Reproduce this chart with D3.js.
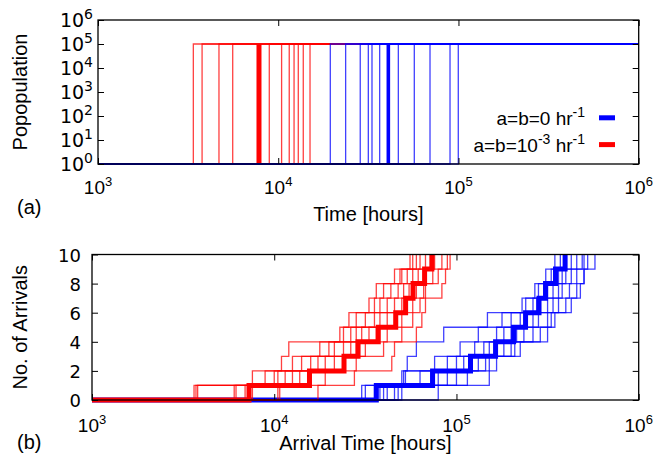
<!DOCTYPE html>
<html><head><meta charset="utf-8">
<script src="https://cdn.jsdelivr.net/npm/d3@7"></script>
<style>
body{margin:0;background:#fff}
svg{display:block}
text{font-family:"Liberation Sans",Arial,Helvetica,sans-serif;fill:#000}
text.ytick{font-family:"DejaVu Sans","Liberation Sans",Arial,sans-serif}
</style>
</head><body>
<svg id="chart" width="653" height="463"></svg>
<script>
// ---------- data ----------
const popTicks = [1, 10, 100, 1e3, 1e4, 1e5, 1e6];
const popTickExp = ["0", "1", "2", "3", "4", "5", "6"];
const timeTicks = [1e3, 1e4, 1e5, 1e6];
const timeTickExp = ["3", "4", "5", "6"];
const arrivalTicks = [0, 2, 4, 6, 8, 10];
const arrivalTickLabels = ["0", "2", "4", "6", "8", "10"];

const popStart = 1;
const popFinal = 1e5;

// (a) establishment times (hours)
const redEstablish = [3380, 3780, 4690, 5590, 8920, 10440, 11510, 12240, 12920, 13770, 15010];
const redEstablishMean = 7820;
const blueEstablish = [19450, 23660, 28510, 31610, 33130, 36550, 46380, 56880, 69520, 89770, 99770];
const blueEstablishMean = 40820;

// (b) arrival times (hours) for arrivals 1..10
const redArrivalRuns = [
  [3630, 7590, 10960, 12020, 22910, 25700, 33110, 36310, 45710, 55600],
  [3720, 8910, 12590, 17780, 23990, 28180, 35480, 39810, 48980, 57540],
  [3800, 10000, 14130, 19950, 26300, 31620, 38020, 43650, 50120, 60260],
  [6030, 10470, 15850, 21380, 28180, 35480, 41690, 47860, 53700, 63100],
  [6170, 11480, 17380, 23990, 30200, 38020, 45710, 51290, 57540, 67610],
  [6920, 12590, 19050, 26300, 33110, 41690, 50120, 54950, 61660, 72440],
  [7590, 13800, 21380, 28180, 36310, 45710, 53700, 60260, 67610, 75860],
  [10470, 15850, 23990, 31620, 41690, 50120, 57540, 66070, 74130, 83180],
  [10720, 19050, 28180, 39810, 50120, 57540, 63100, 67610, 79430, 89130],
  [17380, 27540, 44160, 45710, 60260, 64570, 67610, 83180, 87100, 92260]
];
const redArrivalMean = [7270, 15610, 24150, 28840, 37230, 46430, 52600, 57770, 66850, 73280];

const blueArrivalRuns = [
  [31620, 50120, 53700, 60260, 85110, 147900, 229100, 269200, 309000, 346700],
  [30200, 51290, 75860, 104700, 131800, 177800, 239900, 281800, 331100, 371500],
  [35480, 52480, 89130, 125900, 166000, 199500, 263000, 302000, 346700, 389000],
  [38020, 63100, 100000, 141300, 182000, 223900, 275400, 316200, 363100, 398100],
  [39810, 72440, 109600, 151400, 199500, 239900, 288400, 338800, 380200, 426600],
  [41690, 79430, 120200, 166000, 213800, 263000, 316200, 363100, 398100, 457100],
  [45710, 89130, 131800, 182000, 234400, 281800, 338800, 380200, 426600, 489800],
  [47860, 100000, 144500, 199500, 263000, 316200, 363100, 416900, 457100, 501200],
  [50120, 114800, 151400, 208900, 288400, 331100, 398100, 457100, 501200, 524800],
  [79430, 151400, 166000, 223900, 316200, 346700, 426600, 478600, 501200, 575400]
];
const blueArrivalMean = [36330, 73950, 119400, 163900, 205800, 239400, 283800, 308200, 349600, 394600];

const legendBlue = [["a=b=0 hr", 0], ["-1", 1]];
const legendRed = [["a=b=10", 0], ["-3", 1], [" hr", 0], ["-1", 1]];

// ---------- layout ----------
const RED = "#ff0000", BLUE = "#0000ff";
const svg = d3.select("#chart");
const TICK_FONT = 19, SUP_FONT = 14, SUP_DY = 8, TITLE_FONT = 20, LEG_FONT = 19;

const A = {x0: 98, x1: 638.7, y0: 20, y1: 164};
const B = {x0: 92, x1: 638.7, y0: 254.5, y1: 400};

const xA = d3.scaleLog().domain([1e3, 1e6]).range([A.x0, A.x1]);
const yA = d3.scaleLog().domain([1, 1e6]).range([A.y1, A.y0]);
const xB = d3.scaleLog().domain([1e3, 1e6]).range([B.x0, B.x1]);
const yB = d3.scaleLinear().domain([0, 10]).range([B.y1, B.y0]);

function supText(sel, segs, supSize) {
  let up = false;
  segs.forEach(([s, sup]) => {
    const t = sel.append("tspan").text(s);
    if (sup && !up) { t.attr("dy", -SUP_DY).attr("font-size", supSize); up = true; }
    else if (sup) { t.attr("font-size", supSize); }
    else if (up) { t.attr("dy", SUP_DY); up = false; }
  });
}

function axes(g, x, y, P, yLog, xLabelDy, yLabelGap, yFont) {
  const inner = 6;
  const gb = g.append("g").attr("transform", `translate(0,${P.y1})`)
    .call(d3.axisBottom(x).tickValues(timeTicks).tickSizeInner(-inner).tickSizeOuter(0).tickFormat(""));
  const gt = g.append("g").attr("transform", `translate(0,${P.y0})`)
    .call(d3.axisTop(x).tickValues(timeTicks).tickSizeInner(-inner).tickSizeOuter(0).tickFormat(""));
  const yt = yLog ? popTicks : arrivalTicks;
  const gl = g.append("g").attr("transform", `translate(${P.x0},0)`)
    .call(d3.axisLeft(y).tickValues(yt).tickSizeInner(-inner).tickSizeOuter(0).tickFormat(""));
  const gr = g.append("g").attr("transform", `translate(${P.x1},0)`)
    .call(d3.axisRight(y).tickValues(yt).tickSizeInner(-inner).tickSizeOuter(0).tickFormat(""));
  [gb, gt, gl, gr].forEach(a => {
    a.select(".domain").remove();
    a.selectAll("line").attr("stroke", "#000").attr("stroke-width", 1);
  });
  timeTicks.forEach((v, i) => {
    const t = g.append("text").attr("x", x(v)).attr("y", P.y1 + xLabelDy)
      .attr("text-anchor", "middle").attr("font-size", TICK_FONT);
    supText(t, [["10", 0], [timeTickExp[i], 1]], 13);
  });
  yt.forEach((v, i) => {
    const t = g.append("text").attr("class", "ytick").attr("x", P.x0 - yLabelGap).attr("y", y(v) + 7)
      .attr("text-anchor", "end").attr("font-size", yFont);
    if (yLog) supText(t, [["10", 0], [popTickExp[i], 1]], SUP_FONT);
    else t.text(arrivalTickLabels[i]);
  });
  g.append("rect").attr("x", P.x0).attr("y", P.y0)
    .attr("width", P.x1 - P.x0).attr("height", P.y1 - P.y0)
    .attr("fill", "none").attr("stroke", "#000").attr("stroke-width", 1.3);
}

// ---------- panel (a) ----------
const ga = svg.append("g");
const lineA = d3.line().x(d => xA(d[0])).y(d => yA(d[1])).curve(d3.curveStepAfter);
const segA = d3.line().x(d => xA(d[0])).y(d => yA(d[1]));
function popPath(t) { return [[1e3, popStart], [t, popFinal], [1e6, popFinal]]; }

const plotA = ga.append("g");
redEstablish.forEach(t => plotA.append("path").attr("d", lineA(popPath(t)))
  .attr("fill", "none").attr("stroke", RED).attr("stroke-width", 1.3).attr("stroke-opacity", 0.75));
plotA.append("path").attr("d", segA([[redEstablishMean, popStart], [redEstablishMean, popFinal]]))
  .attr("stroke", RED).attr("stroke-width", 5).attr("fill", "none");
blueEstablish.forEach(t => plotA.append("path").attr("d", lineA(popPath(t)))
  .attr("fill", "none").attr("stroke", BLUE).attr("stroke-width", 1.3).attr("stroke-opacity", 0.75));
plotA.append("path").attr("d", segA([[blueEstablishMean, popStart], [blueEstablishMean, popFinal]]))
  .attr("stroke", BLUE).attr("stroke-width", 3.6).attr("fill", "none");

axes(ga, xA, yA, A, true, 29.5, 5, TICK_FONT);

// legend
const lg = ga.append("g");
[[legendBlue, BLUE, 117.8], [legendRed, RED, 144.6]].forEach(([segs, col, cy]) => {
  const t = lg.append("text").attr("x", 585).attr("y", cy + 7.2)
    .attr("text-anchor", "end").attr("font-size", LEG_FONT);
  supText(t, segs, 14);
  lg.append("rect").attr("x", 599).attr("y", cy - 2.5).attr("width", 16).attr("height", 5).attr("fill", col);
});

svg.append("text").attr("transform", `translate(27,${(A.y0 + A.y1) / 2}) rotate(-90)`)
  .attr("text-anchor", "middle").attr("font-size", TITLE_FONT).text("Popopulation");
svg.append("text").attr("x", (A.x0 + A.x1) / 2).attr("y", 221)
  .attr("text-anchor", "middle").attr("font-size", TITLE_FONT).text("Time [hours]");
svg.append("text").attr("x", 17).attr("y", 214).attr("font-size", TITLE_FONT).text("(a)");

// ---------- panel (b) ----------
const gbp = svg.append("g");
const lineB = d3.line().x(d => xB(d[0])).y(d => yB(d[1])).curve(d3.curveStepAfter);
function arrPath(ts) { return [[1e3, 0]].concat(ts.map((t, i) => [t, i + 1])); }

const plotB = gbp.append("g");
blueArrivalRuns.forEach(r => plotB.append("path").attr("d", lineB(arrPath(r)))
  .attr("fill", "none").attr("stroke", BLUE).attr("stroke-width", 1.3).attr("stroke-opacity", 0.75));
plotB.append("path").attr("d", lineB(arrPath(blueArrivalMean)))
  .attr("fill", "none").attr("stroke", BLUE).attr("stroke-width", 5);
redArrivalRuns.forEach(r => plotB.append("path").attr("d", lineB(arrPath(r)))
  .attr("fill", "none").attr("stroke", RED).attr("stroke-width", 1.3).attr("stroke-opacity", 0.75));
plotB.append("path").attr("d", lineB(arrPath(redArrivalMean)))
  .attr("fill", "none").attr("stroke", RED).attr("stroke-width", 5);

axes(gbp, xB, yB, B, false, 32, 11, 18);

svg.append("text").attr("transform", `translate(27,${(B.y0 + B.y1) / 2}) rotate(-90)`)
  .attr("text-anchor", "middle").attr("font-size", TITLE_FONT).text("No. of Arrivals");
svg.append("text").attr("x", (B.x0 + B.x1) / 2).attr("y", 450)
  .attr("text-anchor", "middle").attr("font-size", TITLE_FONT).text("Arrival Time [hours]");
svg.append("text").attr("x", 17).attr("y", 449).attr("font-size", TITLE_FONT).text("(b)");
</script>
</body></html>
